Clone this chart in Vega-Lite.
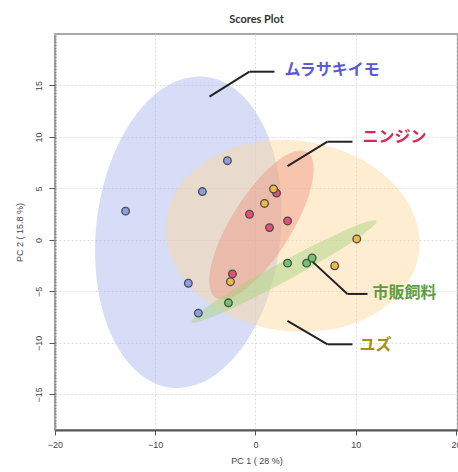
{
  "$schema": "https://vega.github.io/schema/vega-lite/v6.json",
  "width": 403,
  "height": 396,
  "autosize": "none",
  "padding": {"left": 55, "top": 34, "right": 0, "bottom": 42},
  "background": "white",
  "title": {"text": "Scores Plot", "fontSize": 11, "fontWeight": "bold", "font": "Lato", "color": "#333", "offset": 9, "anchor": "middle", "frame": "group"},
  "config": {
    "view": {"stroke": "#8a8a8a", "strokeWidth": 1.5},
    "axis": {"labelFont": "Liberation Sans", "labelFontSize": 9, "labelColor": "#444", "titleFont": "Liberation Sans", "titleFontSize": 9, "titleFontWeight": "normal", "titleColor": "#444", "gridColor": "#dedede", "gridDash": [2, 2], "gridWidth": 1, "tickColor": "#555"}
  },
  "datasets": {
    "ell": [
      {"g": "blue", "i": 0, "x": -4.95, "y": 15.84}, {"g": "blue", "i": 1, "x": -1.59, "y": 14.29}, {"g": "blue", "i": 2, "x": 1.0, "y": 10.67}, {"g": "blue", "i": 3, "x": 2.41, "y": 5.55},
      {"g": "blue", "i": 4, "x": 2.44, "y": -0.31}, {"g": "blue", "i": 5, "x": 1.07, "y": -6.0}, {"g": "blue", "i": 6, "x": -1.48, "y": -10.67}, {"g": "blue", "i": 7, "x": -4.82, "y": -13.6},
      {"g": "blue", "i": 8, "x": -8.45, "y": -14.34}, {"g": "blue", "i": 9, "x": -11.81, "y": -12.79}, {"g": "blue", "i": 10, "x": -14.4, "y": -9.18}, {"g": "blue", "i": 11, "x": -15.81, "y": -4.05},
      {"g": "blue", "i": 12, "x": -15.84, "y": 1.81}, {"g": "blue", "i": 13, "x": -14.47, "y": 7.5}, {"g": "blue", "i": 14, "x": -11.92, "y": 12.17}, {"g": "blue", "i": 15, "x": -8.58, "y": 15.1},
      {"g": "orange", "i": 0, "x": 16.32, "y": -1.16}, {"g": "orange", "i": 1, "x": 15.79, "y": 2.48}, {"g": "orange", "i": 2, "x": 13.42, "y": 5.79}, {"g": "orange", "i": 3, "x": 9.57, "y": 8.29},
      {"g": "orange", "i": 4, "x": 4.83, "y": 9.58}, {"g": "orange", "i": 5, "x": -0.09, "y": 9.48}, {"g": "orange", "i": 6, "x": -4.42, "y": 7.98}, {"g": "orange", "i": 7, "x": -7.52, "y": 5.34},
      {"g": "orange", "i": 8, "x": -8.92, "y": 1.94}, {"g": "orange", "i": 9, "x": -8.39, "y": -1.7}, {"g": "orange", "i": 10, "x": -6.02, "y": -5.01}, {"g": "orange", "i": 11, "x": -2.17, "y": -7.51},
      {"g": "orange", "i": 12, "x": 2.57, "y": -8.8}, {"g": "orange", "i": 13, "x": 7.49, "y": -8.7}, {"g": "orange", "i": 14, "x": 11.82, "y": -7.2}, {"g": "orange", "i": 15, "x": 14.92, "y": -4.56},
      {"g": "red", "i": 0, "x": 5.15, "y": 8.52}, {"g": "red", "i": 1, "x": 5.77, "y": 7.4}, {"g": "red", "i": 2, "x": 5.61, "y": 5.37}, {"g": "red", "i": 3, "x": 4.69, "y": 2.74},
      {"g": "red", "i": 4, "x": 3.13, "y": -0.09}, {"g": "red", "i": 5, "x": 1.2, "y": -2.68}, {"g": "red", "i": 6, "x": -0.83, "y": -4.63}, {"g": "red", "i": 7, "x": -2.64, "y": -5.67},
      {"g": "red", "i": 8, "x": -3.96, "y": -5.61}, {"g": "red", "i": 9, "x": -4.58, "y": -4.49}, {"g": "red", "i": 10, "x": -4.42, "y": -2.46}, {"g": "red", "i": 11, "x": -3.49, "y": 0.17},
      {"g": "red", "i": 12, "x": -1.93, "y": 3.0}, {"g": "red", "i": 13, "x": 0.0, "y": 5.59}, {"g": "red", "i": 14, "x": 2.02, "y": 7.54}, {"g": "red", "i": 15, "x": 3.84, "y": 8.58},
      {"g": "green", "i": 0, "x": 12.06, "y": 1.84}, {"g": "green", "i": 1, "x": 11.54, "y": 1.17}, {"g": "green", "i": 2, "x": 9.68, "y": -0.17}, {"g": "green", "i": 3, "x": 6.79, "y": -1.93},
      {"g": "green", "i": 4, "x": 3.3, "y": -3.87}, {"g": "green", "i": 5, "x": -0.27, "y": -5.68}, {"g": "green", "i": 6, "x": -3.36, "y": -7.1}, {"g": "green", "i": 7, "x": -5.51, "y": -7.9},
      {"g": "green", "i": 8, "x": -6.38, "y": -7.96}, {"g": "green", "i": 9, "x": -5.85, "y": -7.28}, {"g": "green", "i": 10, "x": -4.0, "y": -5.95}, {"g": "green", "i": 11, "x": -1.11, "y": -4.18},
      {"g": "green", "i": 12, "x": 2.39, "y": -2.25}, {"g": "green", "i": 13, "x": 5.95, "y": -0.44}, {"g": "green", "i": 14, "x": 9.04, "y": 0.98}, {"g": "green", "i": 15, "x": 11.2, "y": 1.79}
    ],
    "pts": [
      {"g": "ムラサキイモ", "x": -12.96, "y": 2.8}, {"g": "ムラサキイモ", "x": -5.3, "y": 4.7}, {"g": "ムラサキイモ", "x": -2.8, "y": 7.7}, {"g": "ムラサキイモ", "x": -6.7, "y": -4.2}, {"g": "ムラサキイモ", "x": -5.7, "y": -7.1},
      {"g": "ニンジン", "x": -0.6, "y": 2.5}, {"g": "ニンジン", "x": 1.4, "y": 1.2}, {"g": "ニンジン", "x": 3.2, "y": 1.85}, {"g": "ニンジン", "x": 2.1, "y": 4.55}, {"g": "ニンジン", "x": -2.3, "y": -3.3},
      {"g": "ユズ", "x": 1.8, "y": 4.95}, {"g": "ユズ", "x": 0.9, "y": 3.55}, {"g": "ユズ", "x": -2.5, "y": -4.05}, {"g": "ユズ", "x": 10.1, "y": 0.1}, {"g": "ユズ", "x": 7.9, "y": -2.5},
      {"g": "市販飼料", "x": 3.2, "y": -2.25}, {"g": "市販飼料", "x": 5.1, "y": -2.25}, {"g": "市販飼料", "x": 5.65, "y": -1.75}, {"g": "市販飼料", "x": -2.7, "y": -6.1}
    ],
    "leaders": [
      {"g": "ムラサキイモ", "x": -4.59, "y": 13.91, "x2": -0.6, "y2": 16.34}, {"g": "ムラサキイモ", "x": -0.6, "y": 16.34, "x2": 1.89, "y2": 16.34},
      {"g": "ニンジン", "x": 3.19, "y": 7.18, "x2": 7.18, "y2": 9.54}, {"g": "ニンジン", "x": 7.18, "y": 9.54, "x2": 9.67, "y2": 9.54},
      {"g": "市販飼料", "x": 5.68, "y": -2.1, "x2": 9.17, "y2": -5.24}, {"g": "市販飼料", "x": 9.17, "y": -5.24, "x2": 11.17, "y2": -5.24},
      {"g": "ユズ", "x": 3.19, "y": -7.86, "x2": 7.18, "y2": -10.13}, {"g": "ユズ", "x": 7.18, "y": -10.13, "x2": 9.67, "y2": -10.13}
    ],
    "labels": [
      {"g": "ムラサキイモ", "x": 2.89, "y": 16.5},
      {"g": "ニンジン", "x": 10.67, "y": 10.0},
      {"g": "市販飼料", "x": 11.67, "y": -5.18},
      {"g": "ユズ", "x": 10.37, "y": -10.19}
    ]
  },
  "encoding": {
    "x": {"field": "x", "type": "quantitative", "title": "PC 1 ( 28 %)",
      "scale": {"domain": [-20, 20.2], "nice": false, "zero": false},
      "axis": {"values": [-20, -10, 0, 10, 20], "domainColor": "#555", "domainWidth": 2, "tickSize": 5, "labelPadding": 5, "titlePadding": 7, "labelFlush": false}},
    "y": {"field": "y", "type": "quantitative", "title": "PC 2 ( 15.8 %)",
      "scale": {"domain": [-18.45, 20], "nice": false, "zero": false},
      "axis": {"values": [-15, -10, -5, 0, 5, 10, 15], "domainColor": "#8a8a8a", "domainWidth": 2, "domainDash": [2, 1], "tickSize": 6, "labelAngle": -90, "labelAlign": "center", "labelBaseline": "bottom", "labelPadding": 6, "titlePadding": 10, "labelFlush": false}}
  },
  "layer": [
    {"data": {"name": "ell"}, "transform": [{"filter": "datum.g === 'blue'"}],
     "mark": {"type": "line", "filled": true, "interpolate": "cardinal-closed", "color": "#afbaef", "fillOpacity": 0.5},
     "encoding": {"order": {"field": "i", "type": "quantitative"}}},
    {"data": {"name": "ell"}, "transform": [{"filter": "datum.g === 'orange'"}],
     "mark": {"type": "line", "filled": true, "interpolate": "cardinal-closed", "color": "#fcd89a", "fillOpacity": 0.45},
     "encoding": {"order": {"field": "i", "type": "quantitative"}}},
    {"data": {"name": "ell"}, "transform": [{"filter": "datum.g === 'red'"}],
     "mark": {"type": "line", "filled": true, "interpolate": "cardinal-closed", "color": "#ee8a78", "fillOpacity": 0.4},
     "encoding": {"order": {"field": "i", "type": "quantitative"}}},
    {"data": {"name": "ell"}, "transform": [{"filter": "datum.g === 'green'"}],
     "mark": {"type": "line", "filled": true, "interpolate": "cardinal-closed", "color": "#a5d27a", "fillOpacity": 0.45},
     "encoding": {"order": {"field": "i", "type": "quantitative"}}},
    {"data": {"name": "leaders"},
     "mark": {"type": "rule", "color": "#222", "strokeWidth": 2},
     "encoding": {"x2": {"field": "x2"}, "y2": {"field": "y2"}}},
    {"data": {"name": "pts"},
     "mark": {"type": "circle", "size": 58, "opacity": 1, "stroke": "#4a4a4a", "strokeWidth": 1.3},
     "encoding": {"color": {"field": "g", "type": "nominal", "legend": null,
        "scale": {"domain": ["ムラサキイモ", "ニンジン", "ユズ", "市販飼料"], "range": ["#8c9de3", "#e35078", "#f2b843", "#70c46e"]}}}},
    {"data": {"name": "labels"},
     "mark": {"type": "text", "align": "left", "baseline": "middle", "font": "Noto Sans CJK JP", "fontWeight": "bold", "fontSize": 16},
     "encoding": {"text": {"field": "g"}, "color": {"field": "g", "type": "nominal", "legend": null,
        "scale": {"domain": ["ムラサキイモ", "ニンジン", "ユズ", "市販飼料"], "range": ["#5a5ad6", "#d02c58", "#a88e18", "#5e9c3e"]}}}}
  ],
  "resolve": {"scale": {"color": "independent"}}
}
